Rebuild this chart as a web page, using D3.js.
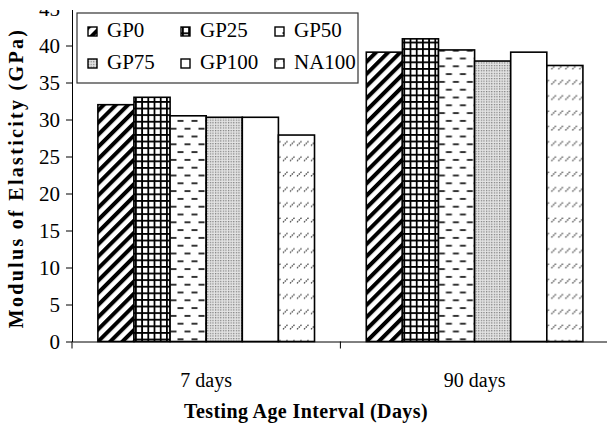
<!DOCTYPE html>
<html>
<head>
<meta charset="utf-8">
<script src="https://cdn.jsdelivr.net/npm/d3@7/dist/d3.min.js"></script>
<style>
  body { margin: 0; background: #fff; }
  svg { display: block; }
  svg text { font-family: "Liberation Serif", "Times New Roman", serif; }
</style>
</head>
<body>
<div id="main"></div>
<script>
// Data
var ages = ["7 days", "90 days"];
var mixes = ["GP0", "GP25", "GP50", "GP75", "GP100", "NA100"];
var days7 = [32.0, 33.0, 30.5, 30.3, 30.3, 27.9];
var days90 = [39.1, 40.9, 39.4, 37.9, 39.1, 37.3];
var yTicks = [0, 5, 10, 15, 20, 25, 30, 35, 40, 45];

var values = [days7, days90];

var W = 607, H = 427;
var left = 72, bottom = 341.5;

var translate = function(x, y) {
  return "translate(" + x + "," + y + ")";
};

var svg = d3.select("#main").append("svg")
    .attr("width", W)
    .attr("height", H);

var defs = svg.append("defs");

// hatch patterns, one per mix
var p = defs.append("pattern").attr("id", "pat0")
    .attr("patternUnits", "userSpaceOnUse")
    .attr("width", 8.6).attr("height", 8.6)
    .attr("patternTransform", "rotate(45)");
p.append("rect").attr("width", 8.6).attr("height", 8.6).attr("fill", "#fff");
p.append("rect").attr("x", 0).attr("width", 4).attr("height", 8.6).attr("fill", "#000");

p = defs.append("pattern").attr("id", "pat1")
    .attr("patternUnits", "userSpaceOnUse")
    .attr("x", 1).attr("y", 2)
    .attr("width", 6.2).attr("height", 6.6);
p.append("rect").attr("width", 6.2).attr("height", 6.6).attr("fill", "#fff");
p.append("rect").attr("width", 1.8).attr("height", 6.6).attr("fill", "#000");
p.append("rect").attr("width", 6.2).attr("height", 1.8).attr("fill", "#000");

p = defs.append("pattern").attr("id", "pat2")
    .attr("patternUnits", "userSpaceOnUse")
    .attr("width", 14).attr("height", 15.6);
p.append("rect").attr("width", 14).attr("height", 15.6).attr("fill", "#fff");
p.append("rect").attr("x", 0.5).attr("y", 3).attr("width", 6).attr("height", 1.8).attr("fill", "#222");
p.append("rect").attr("x", 7.5).attr("y", 10.8).attr("width", 6).attr("height", 1.8).attr("fill", "#222");

p = defs.append("pattern").attr("id", "pat3")
    .attr("patternUnits", "userSpaceOnUse")
    .attr("width", 2.6).attr("height", 2.6);
p.append("rect").attr("width", 2.6).attr("height", 2.6).attr("fill", "#e4e4e4");
p.append("rect").attr("width", 1.2).attr("height", 1.2).attr("fill", "#777");

p = defs.append("pattern").attr("id", "pat5")
    .attr("patternUnits", "userSpaceOnUse")
    .attr("width", 7).attr("height", 15.3);
p.append("rect").attr("width", 7).attr("height", 15.3).attr("fill", "#fff");
p.append("line").attr("x1", 1).attr("y1", 8).attr("x2", 5.5).attr("y2", 3.5)
    .attr("stroke", "#444").attr("stroke-width", 1.3).attr("stroke-dasharray", "1.6,0.8");

var fills = ["url(#pat0)", "url(#pat1)", "url(#pat2)", "url(#pat3)", "#fff", "url(#pat5)"];

// scales
var x0 = d3.scaleBand()
    .domain(ages)
    .range([left, left + 2 * 268.4])
    .padding(0);

var x1 = d3.scaleBand()
    .domain(mixes)
    .range([0, x0.bandwidth()])
    .paddingInner(0)
    .paddingOuter(0.717);

var y = d3.scaleLinear()
    .domain([0, 45])
    .range([bottom, bottom - 45 * 7.4]);

// bars
var groups = svg.selectAll(".group")
    .data(ages)
    .enter().append("g")
      .attr("class", "group")
      .attr("transform", function(d) { return translate(x0(d), 0); });

groups.selectAll("rect")
    .data(function(d, i) {
      return mixes.map(function(m, j) { return {mix: m, value: values[i][j], k: j}; });
    })
    .enter().append("rect")
      .attr("x", function(d) { return x1(d.mix); })
      .attr("y", function(d) { return y(d.value); })
      .attr("width", x1.bandwidth())
      .attr("height", function(d) { return y(0) - y(d.value); })
      .attr("fill", function(d) { return fills[d.k]; })
      .attr("stroke", "#000")
      .attr("stroke-width", 1.6);

// y axis, top part is cut off like in the source
svg.append("clipPath").attr("id", "topcut")
  .append("rect").attr("x", -100).attr("y", 10).attr("width", W).attr("height", H);

var yAxis = svg.append("g")
    .attr("class", "y axis")
    .attr("transform", translate(left, 0))
    .attr("clip-path", "url(#topcut)")
    .call(d3.axisLeft(y).tickValues(yTicks).tickSize(6).tickPadding(6).tickSizeOuter(0));

yAxis.selectAll("text")
    .attr("font-size", 21)
    .attr("fill", "#000");
yAxis.selectAll("line, path").attr("stroke", "#000");

// x axis
var xAxis = svg.append("g")
    .attr("class", "x axis")
    .attr("transform", translate(0, bottom))
    .call(d3.axisBottom(x0).tickSize(0).tickPadding(31).tickSizeOuter(0));

xAxis.selectAll("text")
    .attr("font-size", 20)
    .attr("fill", "#000");
xAxis.selectAll("path").attr("stroke", "#000");

// band boundary ticks
xAxis.selectAll(".sep")
    .data(ages)
    .enter().append("line")
      .attr("class", "sep")
      .attr("x1", function(d) { return x0(d); })
      .attr("x2", function(d) { return x0(d); })
      .attr("y1", 0).attr("y2", 7)
      .attr("stroke", "#000");

// axis titles
svg.append("text")
    .attr("x", 306).attr("y", 418)
    .attr("text-anchor", "middle")
    .attr("font-size", 20)
    .attr("font-weight", "bold")
    .attr("letter-spacing", 0.4)
    .text("Testing Age Interval (Days)");

svg.append("text")
    .attr("transform", translate(23, 178) + " rotate(-90)")
    .attr("text-anchor", "middle")
    .attr("font-size", 20)
    .attr("font-weight", "bold")
    .attr("letter-spacing", 2.3)
    .text("Modulus of Elasticity (GPa)");

// legend
var legend = svg.append("g").attr("class", "legend");

legend.append("rect")
    .attr("x", 77).attr("y", 13)
    .attr("width", 281).attr("height", 70)
    .attr("fill", "#fff")
    .attr("stroke", "#333")
    .attr("stroke-width", 1.2);

var colX = [88, 181, 275];
var rowY = [37, 69];

var items = legend.selectAll(".item")
    .data(mixes)
    .enter().append("g")
      .attr("class", "item")
      .attr("transform", function(d, i) { return translate(colX[i % 3], rowY[Math.floor(i / 3)]); });

items.append("rect")
    .attr("x", 0).attr("y", -10)
    .attr("width", 9).attr("height", 9)
    .attr("fill", function(d, i) { return fills[i]; })
    .attr("stroke", "#000")
    .attr("stroke-width", 1.4);

items.append("text")
    .attr("x", 19).attr("y", 0)
    .attr("font-size", 21)
    .text(function(d) { return d; });
</script>
</body>
</html>
